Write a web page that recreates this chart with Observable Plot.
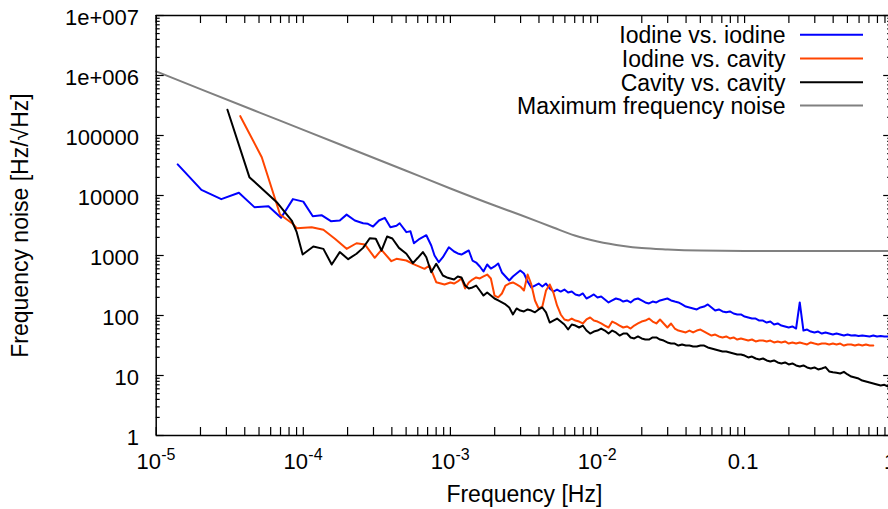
<!DOCTYPE html>
<html><head><meta charset="utf-8">
<script src="https://cdn.jsdelivr.net/npm/d3@7"></script>
<script src="https://cdn.jsdelivr.net/npm/@observablehq/plot@0.6"></script>
<style>html,body{margin:0;padding:0;background:#fff;}#chart svg{display:block;}</style>
</head><body><div id="chart"></div>
<script>
// ---------- series names & colours ----------
const seriesNames = ["Iodine vs. iodine", "Iodine vs. cavity", "Cavity vs. cavity", "Maximum frequency noise"];
const seriesColors = ["#0000ff", "#ff4500", "#000000", "#808080"];

// ---------- low-frequency (sparse) readings: [frequency Hz, noise Hz/sqrtHz] ----------
const iodineIodineLow = [[1.4e-5,3.3e4],[2.03e-5,1.24e4],[2.77e-5,8.7e3],[3.65e-5,1.11e4],[4.65e-5,6.4e3],[5.8e-5,6.6e3],[7.06e-5,4.25e3],[8.5e-5,8.7e3],[1.0e-4,7.9e3],[1.16e-4,4.5e3],[1.33e-4,4.7e3],[1.54e-4,3.73e3],[1.77e-4,3.83e3],[1.97e-4,4.8e3],[2.24e-4,3.83e3],[2.55e-4,3.45e3],[2.75e-4,3.37e3],[2.98e-4,3.04e3],[3.27e-4,3.83e3],[3.58e-4,4.25e3],[3.91e-4,2.96e3],[4.3e-4,3.13e3],[4.52e-4,3.45e3],[5.02e-4,2.45e3],[5.35e-4,2.54e3],[5.65e-4,1.6e3],[6.18e-4,1.9e3],[6.86e-4,2.18e3],[7.41e-4,1.47e3],[7.8e-4,1.0e3],[8.34e-4,773],[8.89e-4,937],[9.76e-4,1.37e3]];
const iodineCavityLow = [[3.73e-5,2.1e5],[5.22e-5,4.35e4],[6.95e-5,4.82e3],[8.47e-5,3.38e3],[9.02e-5,2.85e3],[1.14e-4,2.96e3],[1.37e-4,2.68e3],[1.64e-4,1.9e3],[1.97e-4,1.29e3],[2.3e-4,1.6e3],[2.62e-4,1.53e3],[3.06e-4,916],[3.4e-4,1.24e3],[3.97e-4,803],[4.3e-4,881],[5.02e-4,825],[5.56e-4,727],[6.67e-4,600],[7.21e-4,681],[8.01e-4,359],[9.12e-4,329]];
const cavityCavityLow = [[3.05e-5,2.68e5],[4.3e-5,2.02e4],[6.6e-5,7.73e3],[8.34e-5,3.83e3],[9.02e-5,2.45e3],[9.9e-5,1.04e3],[1.17e-4,1.41e3],[1.37e-4,1.29e3],[1.56e-4,708],[1.77e-4,1.14e3],[2.02e-4,868],[2.3e-4,1.07e3],[2.55e-4,1.34e3],[2.83e-4,1.94e3],[3.11e-4,1.9e3],[3.4e-4,1.21e3],[3.71e-4,2.07e3],[4.03e-4,1.92e3],[4.47e-4,1.34e3],[5.02e-4,1.07e3],[5.56e-4,745],[6.01e-4,916],[6.5e-4,1.14e3],[6.86e-4,937],[7.41e-4,527],[8.01e-4,727],[8.89e-4,464],[9.6e-4,425]];

// ---------- high-frequency (dense) readings on a fixed frequency grid ----------
const gridMantissas = [1.000,1.059,1.122,1.189,1.259,1.334,1.413,1.496,1.585,1.679,1.778,1.884,1.995,2.113,2.239,2.371,2.512,2.661,2.818,2.985,3.162,3.350,3.548,3.758,3.981,4.217,4.467,4.732,5.012,5.309,5.623,5.957,6.310,6.683,7.079,7.499,7.943,8.414,8.913,9.441];
const gridDecades = [1e-3, 1e-2, 1e-1];
const gridEnd = 1;

const iodineIodineDense = [
 1308,1166,1080,1039,1122,1212,825,764,656,541,708,607,656,736,521,447,383,447,501,562,501,369,293,316,341,304,341,282,251,271,251,271,242,251,224,215,233,192,207,224,
 200,207,185,165,178,192,185,171,178,165,185,192,178,165,159,171,165,178,185,192,178,171,165,153,141,136,131,126,136,141,153,136,121,126,117,113,117,108,104,104,
 96.2,92.6,89.1,89.1,82.5,82.5,76.4,79.4,70.8,73.6,68.1,65.6,63.1,65.6,60.7,165,56.2,58.4,54.1,52.1,54.1,50.1,52.1,50.1,48.2,50.1,48.2,46.4,48.2,46.4,47.0,45.5,46.4,45.5,44.7,46.4,44.7,45.5,44.7,44.7,
 44.7];
const iodineCavityDense = [
 355,341,369,414,282,355,398,430,414,447,482,414,215,200,233,316,341,355,329,304,261,482,329,178,131,141,261,329,242,147,104,85.8,82.5,89.1,82.5,79.4,73.6,85.8,92.6,82.5,
 79.4,73.6,68.1,63.1,79.4,73.6,68.1,63.1,65.6,60.7,68.1,73.6,79.4,82.5,89.1,79.4,73.6,85.8,73.6,63.1,73.6,60.7,56.2,54.1,52.1,56.2,52.1,56.2,58.4,54.1,50.1,46.4,48.2,44.7,43.0,44.7,41.4,43.0,39.8,41.4,
 39.8,38.3,39.8,36.9,38.3,38.3,36.9,38.3,35.5,36.9,35.5,36.9,34.1,35.5,34.1,35.5,34.1,32.9,35.5,34.1,32.9,34.1,34.1,32.9,34.1,32.9,34.1,31.6,32.9,32.9,31.6,32.9,31.6,32.9,31.6,31.6];
const cavityCavityDense = [
 414,398,447,430,316,282,293,316,261,215,242,215,192,178,165,153,136,104,131,121,117,126,121,113,126,136,113,76.4,82.5,89.1,79.4,70.8,58.4,70.8,68.1,63.1,68.1,56.2,50.1,54.1,
 56.2,60.7,56.2,50.1,56.2,52.1,46.4,50.1,50.1,43.0,41.4,44.7,41.4,39.8,39.8,43.0,43.0,39.8,38.3,35.5,34.1,34.1,31.6,32.9,31.6,31.6,30.4,30.4,31.6,31.6,29.3,28.2,27.1,26.1,25.1,25.1,24.2,23.3,22.4,22.4,
 21.5,20.0,20.7,19.2,18.5,19.2,17.8,17.1,17.8,16.5,15.9,16.5,15.3,15.9,14.7,14.1,14.7,13.6,13.1,13.6,12.6,13.1,13.8,11.7,11.3,11.1,10.8,11.5,10.4,9.62,9.26,8.91,8.25,7.94,7.64,7.36,7.08,6.81,7.0,6.56,
 6.56];

// ---------- maximum frequency noise (smooth curve) ----------
const maxNoise = [[1e-5,1.17e6],[2e-5,5.93e5],[5e-5,2.43e5],[1e-4,1.24e5],[2e-4,6.31e4],[5e-4,2.58e4],[1e-3,1.31e4],[2e-3,6.81e3],[3e-3,4.73e3],[5e-3,2.93e3],[7e-3,2.15e3],[1e-2,1.71e3],[1.5e-2,1.44e3],[2e-2,1.33e3],[3e-2,1.26e3],[5e-2,1.21e3],[0.1,1.19e3],[0.2,1.19e3],[0.5,1.19e3],[1,1.19e3]];

// ---------- axis ticks & labels ----------
const xDecades = [1e-5, 1e-4, 1e-3, 1e-2, 1e-1];
const tickMultipliers = [1, 2, 3, 4, 5, 6, 7, 8, 9];
const xPowerTicks = [1e-5, 1e-4, 1e-3, 1e-2];
const xPowerExponents = ["-5", "-4", "-3", "-2"];
const xPlainTicks = [0.1, 1];
const xPlainLabels = ["0.1", "1"];
const yDecades = [1, 10, 100, 1000, 1e4, 1e5, 1e6];
const yMajorTicks = [1, 10, 100, 1000, 1e4, 1e5, 1e6, 1e7];
const yTickLabels = ["1", "10", "100", "1000", "10000", "100000", "1e+006", "1e+007"];
const minorMultipliers = [2, 3, 4, 5, 6, 7, 8, 9];
const xLabel = "Frequency [Hz]";
const yLabel = "Frequency noise [Hz/\u221AHz]";

// ---------- build tables ----------
const gridFreq = [];
for (const d of gridDecades) for (const m of gridMantissas) gridFreq.push(+(m * d).toPrecision(4));
gridFreq.push(gridEnd);
const dense = (vals) => vals.map((v, i) => [gridFreq[i], v]);
const toRows = (pairs) => pairs.map(([f, v]) => ({f, v}));
const blueRows = toRows(iodineIodineLow.concat(dense(iodineIodineDense)));
const orangeRows = toRows(iodineCavityLow.concat(dense(iodineCavityDense)));
const blackRows = toRows(cavityCavityLow.concat(dense(cavityCavityDense)));
const grayRows = toRows(maxNoise);
const xTicks = xDecades.flatMap(d => tickMultipliers.map(m => +(m * d).toPrecision(3))).concat([1]);
const yMinor = yDecades.flatMap(d => minorMultipliers.map(m => m * d));

// ---------- layout ----------
const W = 888, H = 509;
const mLeft = 155.7, mTop = 15, mBottom = 435, mRight = 891.2;
const innerW = W - mLeft;
const innerH = mBottom - mTop;
const font = "'Liberation Sans', Arial, Helvetica, sans-serif";
const legendTextDy = [20.3, 44, 67.7, 91];
const legendLineDy = [19.3, 43, 66.7, 90];

const marks = [
  Plot.line(blueRows, {x: "f", y: "v", stroke: seriesColors[0], strokeWidth: 2}),
  Plot.line(orangeRows, {x: "f", y: "v", stroke: seriesColors[1], strokeWidth: 2}),
  Plot.line(blackRows, {x: "f", y: "v", stroke: seriesColors[2], strokeWidth: 2}),
  Plot.line(grayRows, {x: "f", y: "v", stroke: seriesColors[3], strokeWidth: 2, curve: "monotone-x"}),
  Plot.ruleX([1e-5], {stroke: "#000", strokeWidth: 1.5}),
  Plot.ruleX([1], {stroke: "#000", strokeWidth: 1.5}),
  Plot.ruleY([1], {stroke: "#000", strokeWidth: 1.5}),
  Plot.ruleY([1e7], {stroke: "#000", strokeWidth: 1.5}),
  Plot.ruleX(xTicks, {x: d => d, insetTop: innerH - 8, stroke: "#000", strokeWidth: 1.2}),
  Plot.ruleX(xTicks, {x: d => d, insetBottom: innerH - 8, stroke: "#000", strokeWidth: 1.2}),
  Plot.ruleY(yMajorTicks, {y: d => d, insetRight: innerW - 8, stroke: "#000", strokeWidth: 1.2}),
  Plot.ruleY(yMinor, {y: d => d, insetRight: innerW - 4, stroke: "#000", strokeWidth: 1.2}),
  Plot.ruleY(yMajorTicks, {y: d => d, insetLeft: (mRight - 8) - mLeft, stroke: "#000", strokeWidth: 1.2}),
  Plot.ruleY(yMinor, {y: d => d, insetLeft: (mRight - 4) - mLeft, stroke: "#000", strokeWidth: 1.2}),
  Plot.text(yMajorTicks, {y: d => d, frameAnchor: "left", text: (d, i) => yTickLabels[i], textAnchor: "end", lineAnchor: "middle", dx: -17.2, dy: 2, fontSize: 22, fill: "#000"}),
  Plot.text(xPowerTicks, {x: d => d, frameAnchor: "bottom", text: () => "10", textAnchor: "middle", lineAnchor: "bottom", dx: -7.5, dy: 33.3, fontSize: 22, fill: "#000"}),
  Plot.text(xPowerTicks, {x: d => d, frameAnchor: "bottom", text: (d, i) => xPowerExponents[i], textAnchor: "start", lineAnchor: "bottom", dx: 5, dy: 24, fontSize: 16, fill: "#000"}),
  Plot.text(xPlainTicks, {x: d => d, frameAnchor: "bottom", text: (d, i) => xPlainLabels[i], textAnchor: "middle", lineAnchor: "bottom", dx: -1.5, dy: 33.3, fontSize: 22, fill: "#000"}),
  Plot.text([xLabel], {frameAnchor: "bottom", textAnchor: "middle", lineAnchor: "bottom", dx: 2, dy: 66, fontSize: 23, fill: "#000"}),
  Plot.text([yLabel], {frameAnchor: "left", rotate: -90, textAnchor: "middle", lineAnchor: "middle", dx: 20.6 - mLeft, fontSize: 23, fill: "#000"})
];
seriesNames.forEach((name, i) => {
  marks.push(Plot.text([name], {frameAnchor: "top-right", textAnchor: "end", lineAnchor: "middle", dx: 785 - W, dy: legendTextDy[i], fontSize: 23, fill: "#000"}));
  marks.push(Plot.ruleY([1e7], {dy: legendLineDy[i], insetLeft: 800 - mLeft, insetRight: W - 863, stroke: seriesColors[i], strokeWidth: 2}));
});

const chart = Plot.plot({
  width: W, height: H,
  marginLeft: mLeft, marginRight: 0, marginTop: mTop, marginBottom: H - mBottom,
  x: {type: "log", domain: [1e-5, 1], range: [mLeft, mRight], axis: null},
  y: {type: "log", domain: [1, 1e7], range: [mBottom, mTop], axis: null},
  style: {fontFamily: font, background: "white", overflow: "hidden"},
  marks
});
document.getElementById("chart").appendChild(chart);
</script>
</body></html>
